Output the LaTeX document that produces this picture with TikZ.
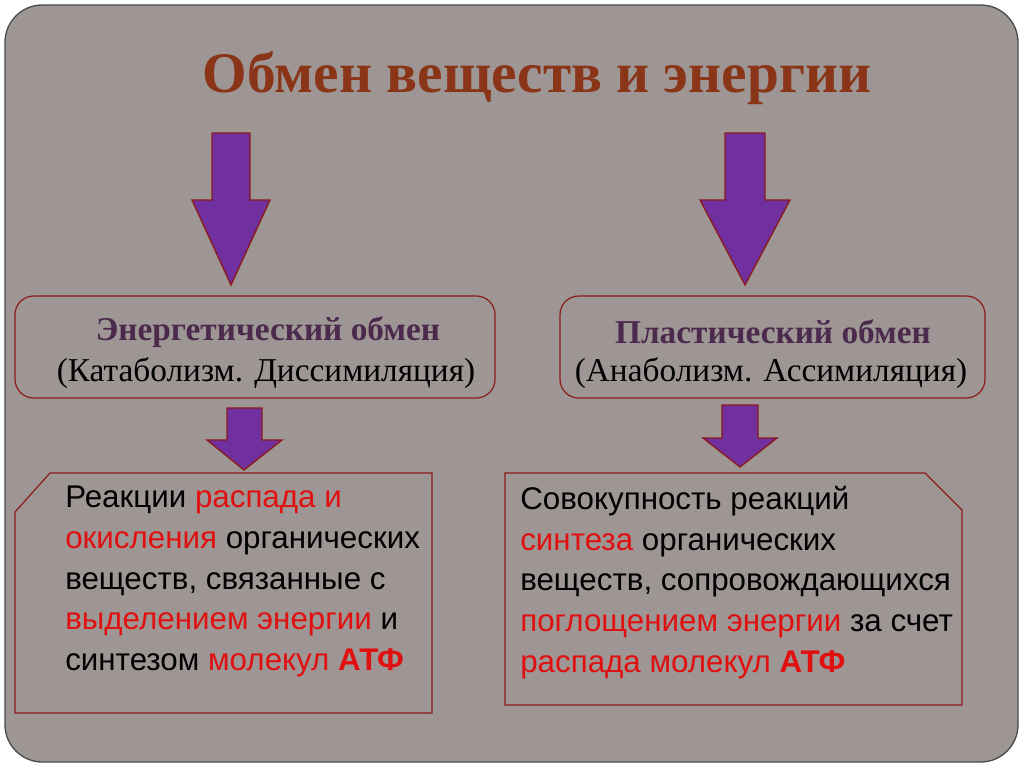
\documentclass[tikz,border=0pt]{standalone}
\usepackage{fontspec}
\setmainfont{Liberation Serif}
\newfontfamily\bodyfont{Liberation Sans}
\definecolor{bg}{HTML}{9E9694}
\definecolor{ttl}{HTML}{8A3418}
\definecolor{purp}{HTML}{7030A0}
\definecolor{brd}{HTML}{8B1A1A}
\definecolor{hd}{HTML}{4B2A4E}
\definecolor{rd}{HTML}{E01010}
\tikzset{
 bigarrow/.style={fill=purp,draw=brd,line width=1pt},
 frame/.style={draw=brd,line width=0.9pt},
 txt/.style={font=\bodyfont\fontsize{23.5}{30.5}\selectfont,align=left,anchor=north west,inner sep=0pt},
 mid/.style={font=\fontsize{25}{32}\selectfont,align=center,inner sep=0pt}
}
\newcommand{\hl}[1]{\textcolor{rd}{#1}}
\begin{document}
\begin{tikzpicture}[x=0.75pt,y=-0.75pt]
\useasboundingbox (0,0) rectangle (1024,767);
\fill[white] (0,0) rectangle (1024,767);
\draw[fill=bg,draw=black!70,line width=1pt,rounded corners=28] (5,5) rectangle (1018,762);
\node[font=\bfseries\fontsize{43}{48}\selectfont,text=ttl] (title) at (537,78) {Обмен веществ и энергии};
% big arrows
\draw[bigarrow] (212,133)--(250,133)--(250,200)--(270,200)--(231,285)--(192,200)--(212,200)--cycle;
\draw[bigarrow] (725,133)--(765,133)--(765,200)--(790,200)--(745,285)--(700,200)--(725,200)--cycle;
% boxes
\draw[frame,rounded corners=14] (15,296) rectangle (495,398);
\draw[frame,rounded corners=14] (560,296) rectangle (985,398);
\node[mid] (l1) at (268,332) {\textcolor{hd}{\bfseries Энергетический обмен}};
\node[mid] (l2) at (266,373) {(Катаболизм. Диссимиляция)};
\node[mid] (r1) at (773,332) {\textcolor{hd}{\bfseries Пластический обмен}};
\node[mid] (r2) at (771,373) {(Анаболизм. Ассимиляция)};
% small arrows
\draw[bigarrow] (227,408)--(262,408)--(262,440)--(282,440)--(244,470)--(207,440)--(227,440)--cycle;
\draw[bigarrow] (722,405)--(758,405)--(758,438)--(777,438)--(740,467)--(703,438)--(722,438)--cycle;
% bottom boxes
\draw[frame] (50,473)--(432,473)--(432,713)--(15,713)--(15,512)--cycle;
\draw[frame] (505,473)--(925,473)--(962,510)--(962,705)--(505,705)--cycle;
\node[txt] (lt) at (65,486) {Реакции \hl{распада и}\\\hl{окисления} органических\\веществ, связанные с\\\hl{выделением энергии} и\\синтезом \hl{молекул} \textcolor{rd}{\bfseries АТФ}};
\node[txt] (rt) at (520,486) {Совокупность реакций\\\hl{синтеза} органических\\веществ, сопровождающихся\\\hl{поглощением энергии} за счет\\\hl{распада молекул} \textcolor{rd}{\bfseries АТФ}};
\end{tikzpicture}
\end{document}
